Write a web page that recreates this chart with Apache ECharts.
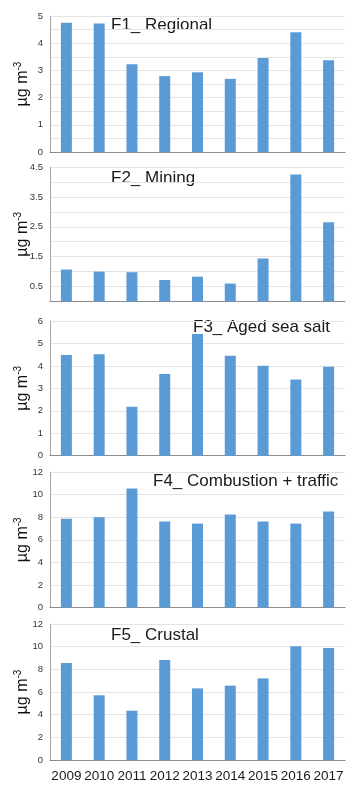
<!DOCTYPE html>
<html>
<head>
<meta charset="utf-8">
<script src="https://cdn.jsdelivr.net/npm/echarts@6/dist/echarts.min.js"></script>
<style>
html,body{margin:0;padding:0;background:#fff;}
#c{width:347px;height:786px;}
</style>
</head>
<body>
<div id="c"></div>
<script>
var years = ['2009','2010','2011','2012','2013','2014','2015','2016','2017'];
var f1 = [4.75, 4.72, 3.23, 2.79, 2.93, 2.69, 3.46, 4.40, 3.37];
var f2 = [1.07, 1.00, 0.98, 0.72, 0.83, 0.60, 1.44, 4.25, 2.65];
var f3 = [4.49, 4.52, 2.18, 3.64, 5.42, 4.45, 4.01, 3.39, 3.96];
var f4 = [7.85, 8.00, 10.54, 7.61, 7.43, 8.24, 7.61, 7.43, 8.51];
var f5 = [8.56, 5.71, 4.35, 8.82, 6.32, 6.56, 7.20, 10.03, 9.88];
var titles = ['F1_ Regional', 'F2_ Mining', 'F3_ Aged sea salt', 'F4_ Combustion + traffic', 'F5_ Crustal'];
var yMax = [5, 4.5, 6, 12, 12];
var yInterval = [0.5, 0.5, 1, 2, 2];

var FONT = '"Liberation Sans", Arial, sans-serif';
var seriesData = [f1, f2, f3, f4, f5];
var gridTops = [16, 167, 321, 472, 624];
var gridHeights = [136, 134.5, 134.7, 135.5, 136];
var titlePos = [[111, 25], [111, 178], [193, 327], [153, 481], [111, 635]];

var labelFormatters = [
  function (v) { return Math.abs(v - Math.round(v)) < 1e-6 ? String(Math.round(v)) : ''; },
  function (v) { return Math.round(v * 2) % 2 === 1 ? String(v) : ''; },
  null, null, null
];

var grids = [], xAxes = [], yAxes = [], series = [], graphics = [];
for (var i = 0; i < 5; i++) {
  grids.push({ left: 50, right: 2, top: gridTops[i], height: gridHeights[i], containLabel: false, outerBoundsMode: 'none' });
  xAxes.push({
    type: 'category', gridIndex: i, data: years,
    axisTick: { show: false },
    axisLine: { lineStyle: { color: '#8c8c8c', width: 1 } },
    axisLabel: { show: i === 4, fontSize: 13.5, color: '#1a1a1a', margin: 9, fontFamily: FONT, interval: 0 }
  });
  var yl = {
    type: 'value', gridIndex: i, min: 0, max: yMax[i], interval: yInterval[i],
    axisLine: { show: true, lineStyle: { color: '#a6a6a6', width: 1 } },
    axisTick: { show: false },
    splitLine: { lineStyle: { color: '#e3e3e3', width: 1 } },
    axisLabel: { fontSize: 9.5, color: '#333', margin: 7, fontFamily: FONT },
    name: '{a|µg m}{b|-3}',
    nameLocation: 'middle',
    nameGap: 19,
    nameMoveOverlap: false,
    nameTextStyle: {
      fontFamily: FONT,
      rich: {
        a: { fontSize: 16, color: '#111', fontFamily: FONT, lineHeight: 18, verticalAlign: 'bottom' },
        b: { fontSize: 10, color: '#111', fontFamily: FONT, lineHeight: 18, verticalAlign: 'top' }
      }
    }
  };
  if (labelFormatters[i]) yl.axisLabel.formatter = labelFormatters[i];
  yAxes.push(yl);
  series.push({
    type: 'bar', xAxisIndex: i, yAxisIndex: i, data: seriesData[i],
    barWidth: 11, itemStyle: { color: '#5b9bd5' }, silent: true
  });
  graphics.push({
    type: 'text', x: titlePos[i][0], y: titlePos[i][1],
    style: { text: titles[i], fontSize: 17, fontFamily: FONT, fill: '#1a1a1a', verticalAlign: 'middle', align: 'left' }
  });
}

var chart = echarts.init(document.getElementById('c'), null, { renderer: 'canvas' });
chart.setOption({
  backgroundColor: '#fff',
  animation: false,
  grid: grids,
  xAxis: xAxes,
  yAxis: yAxes,
  series: series,
  graphic: graphics
});
</script>
</body>
</html>
